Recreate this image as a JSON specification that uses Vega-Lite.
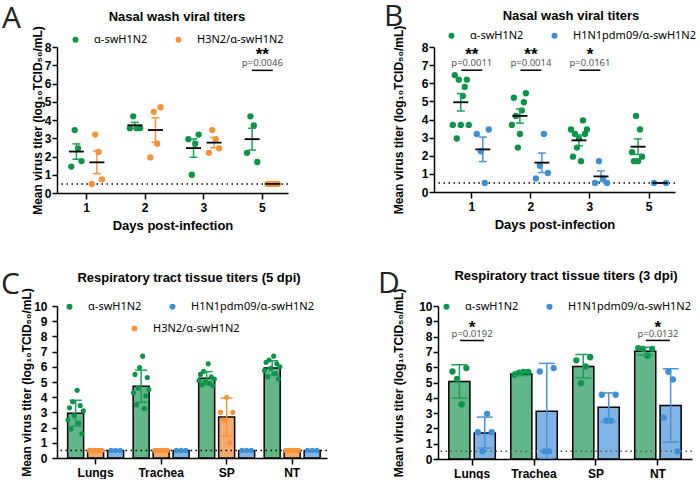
{
  "$schema": "https://vega.github.io/schema/vega-lite/v6.json",
  "padding": {"left": 1, "top": 2, "right": 0, "bottom": 0},
  "background": "white",
  "datasets": {
    "A_pts": [
      {"day": "1", "group": "α-swH1N2", "pig": "G1", "titer": 1.45},
      {"day": "1", "group": "α-swH1N2", "pig": "G2", "titer": 3.45},
      {"day": "1", "group": "α-swH1N2", "pig": "G3", "titer": 2.45},
      {"day": "1", "group": "α-swH1N2", "pig": "G4", "titer": 1.75},
      {"day": "1", "group": "H3N2/α-swH1N2", "pig": "O1", "titer": 0.5},
      {"day": "1", "group": "H3N2/α-swH1N2", "pig": "O2", "titer": 3.2},
      {"day": "1", "group": "H3N2/α-swH1N2", "pig": "O3", "titer": 2.25},
      {"day": "1", "group": "H3N2/α-swH1N2", "pig": "O4", "titer": 0.75},
      {"day": "2", "group": "α-swH1N2", "pig": "G1", "titer": 3.55},
      {"day": "2", "group": "α-swH1N2", "pig": "G2", "titer": 4.2},
      {"day": "2", "group": "α-swH1N2", "pig": "G3", "titer": 3.55},
      {"day": "2", "group": "α-swH1N2", "pig": "G4", "titer": 3.55},
      {"day": "2", "group": "H3N2/α-swH1N2", "pig": "O1", "titer": 1.95},
      {"day": "2", "group": "H3N2/α-swH1N2", "pig": "O2", "titer": 4.45},
      {"day": "2", "group": "H3N2/α-swH1N2", "pig": "O3", "titer": 2.7},
      {"day": "2", "group": "H3N2/α-swH1N2", "pig": "O4", "titer": 4.7},
      {"day": "3", "group": "α-swH1N2", "pig": "G1", "titer": 2.95},
      {"day": "3", "group": "α-swH1N2", "pig": "G2", "titer": 1.0},
      {"day": "3", "group": "α-swH1N2", "pig": "G3", "titer": 2.7},
      {"day": "3", "group": "α-swH1N2", "pig": "G4", "titer": 3.2},
      {"day": "3", "group": "H3N2/α-swH1N2", "pig": "O1", "titer": 2.2},
      {"day": "3", "group": "H3N2/α-swH1N2", "pig": "O2", "titer": 3.45},
      {"day": "3", "group": "H3N2/α-swH1N2", "pig": "O3", "titer": 2.95},
      {"day": "3", "group": "H3N2/α-swH1N2", "pig": "O4", "titer": 2.45},
      {"day": "5", "group": "α-swH1N2", "pig": "G1", "titer": 2.2},
      {"day": "5", "group": "α-swH1N2", "pig": "G2", "titer": 4.2},
      {"day": "5", "group": "α-swH1N2", "pig": "G3", "titer": 3.7},
      {"day": "5", "group": "α-swH1N2", "pig": "G4", "titer": 1.7},
      {"day": "5", "group": "H3N2/α-swH1N2", "pig": "O1", "titer": 0.5},
      {"day": "5", "group": "H3N2/α-swH1N2", "pig": "O2", "titer": 0.5},
      {"day": "5", "group": "H3N2/α-swH1N2", "pig": "O3", "titer": 0.5},
      {"day": "5", "group": "H3N2/α-swH1N2", "pig": "O4", "titer": 0.5}
    ],
    "A_sum": [
      {"day": "1", "group": "α-swH1N2", "mean": 2.27, "lo": 1.85, "hi": 2.69},
      {"day": "1", "group": "H3N2/α-swH1N2", "mean": 1.68, "lo": 1.06, "hi": 2.3},
      {"day": "2", "group": "α-swH1N2", "mean": 3.71, "lo": 3.55, "hi": 3.87},
      {"day": "2", "group": "H3N2/α-swH1N2", "mean": 3.45, "lo": 2.78, "hi": 4.12},
      {"day": "3", "group": "α-swH1N2", "mean": 2.46, "lo": 1.96, "hi": 2.96},
      {"day": "3", "group": "H3N2/α-swH1N2", "mean": 2.76, "lo": 2.48, "hi": 3.04},
      {"day": "5", "group": "α-swH1N2", "mean": 2.95, "lo": 2.35, "hi": 3.55},
      {"day": "5", "group": "H3N2/α-swH1N2", "mean": 0.5, "lo": null, "hi": null}
    ],
    "A_sig": [
      {"day": "5", "p": "p=0.0046", "stars": "**"}
    ],
    "B_pts": [
      {"day": "1", "group": "α-swH1N2", "pig": "G1", "titer": 3.7},
      {"day": "1", "group": "α-swH1N2", "pig": "G2", "titer": 6.45},
      {"day": "1", "group": "α-swH1N2", "pig": "G3", "titer": 2.95},
      {"day": "1", "group": "α-swH1N2", "pig": "G4", "titer": 6.2},
      {"day": "1", "group": "α-swH1N2", "pig": "G5", "titer": 3.7},
      {"day": "1", "group": "α-swH1N2", "pig": "G6", "titer": 5.3},
      {"day": "1", "group": "α-swH1N2", "pig": "G7", "titer": 5.8},
      {"day": "1", "group": "α-swH1N2", "pig": "G8", "titer": 6.2},
      {"day": "1", "group": "α-swH1N2", "pig": "G9", "titer": 3.7},
      {"day": "1", "group": "H1N1pdm09/α-swH1N2", "pig": "H1", "titer": 3.2},
      {"day": "1", "group": "H1N1pdm09/α-swH1N2", "pig": "H2", "titer": 2.25},
      {"day": "1", "group": "H1N1pdm09/α-swH1N2", "pig": "H3", "titer": 0.5},
      {"day": "1", "group": "H1N1pdm09/α-swH1N2", "pig": "H4", "titer": 3.45},
      {"day": "2", "group": "α-swH1N2", "pig": "G1", "titer": 3.7},
      {"day": "2", "group": "α-swH1N2", "pig": "G2", "titer": 5.2},
      {"day": "2", "group": "α-swH1N2", "pig": "G3", "titer": 4.2},
      {"day": "2", "group": "α-swH1N2", "pig": "G4", "titer": 2.45},
      {"day": "2", "group": "α-swH1N2", "pig": "G5", "titer": 3.2},
      {"day": "2", "group": "α-swH1N2", "pig": "G6", "titer": 4.5},
      {"day": "2", "group": "α-swH1N2", "pig": "G7", "titer": 4.95},
      {"day": "2", "group": "α-swH1N2", "pig": "G8", "titer": 5.45},
      {"day": "2", "group": "H1N1pdm09/α-swH1N2", "pig": "H1", "titer": 0.75},
      {"day": "2", "group": "H1N1pdm09/α-swH1N2", "pig": "H2", "titer": 1.45},
      {"day": "2", "group": "H1N1pdm09/α-swH1N2", "pig": "H3", "titer": 3.2},
      {"day": "2", "group": "H1N1pdm09/α-swH1N2", "pig": "H4", "titer": 1.05},
      {"day": "3", "group": "α-swH1N2", "pig": "G1", "titer": 3.45},
      {"day": "3", "group": "α-swH1N2", "pig": "G2", "titer": 1.95},
      {"day": "3", "group": "α-swH1N2", "pig": "G3", "titer": 3.2},
      {"day": "3", "group": "α-swH1N2", "pig": "G4", "titer": 2.45},
      {"day": "3", "group": "α-swH1N2", "pig": "G5", "titer": 2.95},
      {"day": "3", "group": "α-swH1N2", "pig": "G6", "titer": 1.7},
      {"day": "3", "group": "α-swH1N2", "pig": "G7", "titer": 3.95},
      {"day": "3", "group": "α-swH1N2", "pig": "G8", "titer": 3.2},
      {"day": "3", "group": "α-swH1N2", "pig": "G9", "titer": 3.45},
      {"day": "3", "group": "H1N1pdm09/α-swH1N2", "pig": "H1", "titer": 0.5},
      {"day": "3", "group": "H1N1pdm09/α-swH1N2", "pig": "H2", "titer": 1.7},
      {"day": "3", "group": "H1N1pdm09/α-swH1N2", "pig": "H3", "titer": 0.75},
      {"day": "3", "group": "H1N1pdm09/α-swH1N2", "pig": "H4", "titer": 0.5},
      {"day": "5", "group": "α-swH1N2", "pig": "G2", "titer": 2.2},
      {"day": "5", "group": "α-swH1N2", "pig": "G3", "titer": 1.7},
      {"day": "5", "group": "α-swH1N2", "pig": "G4", "titer": 4.2},
      {"day": "5", "group": "α-swH1N2", "pig": "G5", "titer": 1.7},
      {"day": "5", "group": "α-swH1N2", "pig": "G6", "titer": 3.45},
      {"day": "5", "group": "α-swH1N2", "pig": "G7", "titer": 1.95},
      {"day": "5", "group": "H1N1pdm09/α-swH1N2", "pig": "H1", "titer": 0.5},
      {"day": "5", "group": "H1N1pdm09/α-swH1N2", "pig": "H4", "titer": 0.5}
    ],
    "B_sum": [
      {"day": "1", "group": "α-swH1N2", "mean": 4.95, "lo": 4.47, "hi": 5.43},
      {"day": "1", "group": "H1N1pdm09/α-swH1N2", "mean": 2.35, "lo": 1.68, "hi": 3.03},
      {"day": "2", "group": "α-swH1N2", "mean": 4.2, "lo": 3.8, "hi": 4.58},
      {"day": "2", "group": "H1N1pdm09/α-swH1N2", "mean": 1.62, "lo": 1.07, "hi": 2.15},
      {"day": "3", "group": "α-swH1N2", "mean": 2.85, "lo": 2.55, "hi": 3.15},
      {"day": "3", "group": "H1N1pdm09/α-swH1N2", "mean": 0.86, "lo": 0.57, "hi": 1.16},
      {"day": "5", "group": "α-swH1N2", "mean": 2.5, "lo": 2.07, "hi": 2.93},
      {"day": "5", "group": "H1N1pdm09/α-swH1N2", "mean": 0.5, "lo": null, "hi": null}
    ],
    "B_sig": [
      {"day": "1", "p": "p=0.0011", "stars": "**"},
      {"day": "2", "p": "p=0.0014", "stars": "**"},
      {"day": "3", "p": "p=0.0161", "stars": "*"}
    ],
    "C_pts": [
      {"organ": "Lungs", "group": "α-swH1N2", "pig": "G1", "titer": 2.5},
      {"organ": "Lungs", "group": "α-swH1N2", "pig": "G2", "titer": 3.3},
      {"organ": "Lungs", "group": "α-swH1N2", "pig": "G3", "titer": 1.9},
      {"organ": "Lungs", "group": "α-swH1N2", "pig": "G4", "titer": 3.7},
      {"organ": "Lungs", "group": "α-swH1N2", "pig": "G5", "titer": 2.8},
      {"organ": "Lungs", "group": "α-swH1N2", "pig": "G7", "titer": 4.45},
      {"organ": "Lungs", "group": "α-swH1N2", "pig": "G8", "titer": 2.3},
      {"organ": "Lungs", "group": "α-swH1N2", "pig": "G9", "titer": 3.45},
      {"organ": "Lungs", "group": "α-swH1N2", "pig": "G10", "titer": 1.6},
      {"organ": "Lungs", "group": "α-swH1N2", "pig": "G11", "titer": 3.1},
      {"organ": "Trachea", "group": "α-swH1N2", "pig": "G1", "titer": 4.3},
      {"organ": "Trachea", "group": "α-swH1N2", "pig": "G2", "titer": 5.5},
      {"organ": "Trachea", "group": "α-swH1N2", "pig": "G3", "titer": 3.5},
      {"organ": "Trachea", "group": "α-swH1N2", "pig": "G4", "titer": 4.6},
      {"organ": "Trachea", "group": "α-swH1N2", "pig": "G5", "titer": 5.95},
      {"organ": "Trachea", "group": "α-swH1N2", "pig": "G7", "titer": 6.7},
      {"organ": "Trachea", "group": "α-swH1N2", "pig": "G8", "titer": 3.25},
      {"organ": "Trachea", "group": "α-swH1N2", "pig": "G9", "titer": 4.1},
      {"organ": "Trachea", "group": "α-swH1N2", "pig": "G10", "titer": 5.3},
      {"organ": "Trachea", "group": "α-swH1N2", "pig": "G11", "titer": 4.5},
      {"organ": "SP", "group": "α-swH1N2", "pig": "G1", "titer": 5.1},
      {"organ": "SP", "group": "α-swH1N2", "pig": "G2", "titer": 5.5},
      {"organ": "SP", "group": "α-swH1N2", "pig": "G3", "titer": 4.8},
      {"organ": "SP", "group": "α-swH1N2", "pig": "G4", "titer": 5.7},
      {"organ": "SP", "group": "α-swH1N2", "pig": "G5", "titer": 5.0},
      {"organ": "SP", "group": "α-swH1N2", "pig": "G7", "titer": 6.2},
      {"organ": "SP", "group": "α-swH1N2", "pig": "G8", "titer": 4.9},
      {"organ": "SP", "group": "α-swH1N2", "pig": "G9", "titer": 5.35},
      {"organ": "SP", "group": "α-swH1N2", "pig": "G10", "titer": 4.75},
      {"organ": "SP", "group": "α-swH1N2", "pig": "G11", "titer": 5.2},
      {"organ": "NT", "group": "α-swH1N2", "pig": "G1", "titer": 5.75},
      {"organ": "NT", "group": "α-swH1N2", "pig": "G2", "titer": 6.3},
      {"organ": "NT", "group": "α-swH1N2", "pig": "G3", "titer": 5.35},
      {"organ": "NT", "group": "α-swH1N2", "pig": "G4", "titer": 6.45},
      {"organ": "NT", "group": "α-swH1N2", "pig": "G5", "titer": 5.9},
      {"organ": "NT", "group": "α-swH1N2", "pig": "G7", "titer": 6.7},
      {"organ": "NT", "group": "α-swH1N2", "pig": "G8", "titer": 5.55},
      {"organ": "NT", "group": "α-swH1N2", "pig": "G9", "titer": 6.2},
      {"organ": "NT", "group": "α-swH1N2", "pig": "G10", "titer": 5.2},
      {"organ": "NT", "group": "α-swH1N2", "pig": "G11", "titer": 6.0},
      {"organ": "Lungs", "group": "H3N2/α-swH1N2", "pig": "O1", "titer": 0.5},
      {"organ": "Lungs", "group": "H3N2/α-swH1N2", "pig": "O2", "titer": 0.5},
      {"organ": "Lungs", "group": "H3N2/α-swH1N2", "pig": "O3", "titer": 0.5},
      {"organ": "Lungs", "group": "H3N2/α-swH1N2", "pig": "O4", "titer": 0.5},
      {"organ": "Lungs", "group": "H3N2/α-swH1N2", "pig": "O5", "titer": 0.5},
      {"organ": "Trachea", "group": "H3N2/α-swH1N2", "pig": "O1", "titer": 0.5},
      {"organ": "Trachea", "group": "H3N2/α-swH1N2", "pig": "O2", "titer": 0.5},
      {"organ": "Trachea", "group": "H3N2/α-swH1N2", "pig": "O3", "titer": 0.5},
      {"organ": "Trachea", "group": "H3N2/α-swH1N2", "pig": "O4", "titer": 0.5},
      {"organ": "Trachea", "group": "H3N2/α-swH1N2", "pig": "O5", "titer": 0.5},
      {"organ": "SP", "group": "H3N2/α-swH1N2", "pig": "O1", "titer": 3.0},
      {"organ": "SP", "group": "H3N2/α-swH1N2", "pig": "O2", "titer": 2.5},
      {"organ": "SP", "group": "H3N2/α-swH1N2", "pig": "O3", "titer": 4.0},
      {"organ": "SP", "group": "H3N2/α-swH1N2", "pig": "O4", "titer": 1.0},
      {"organ": "SP", "group": "H3N2/α-swH1N2", "pig": "O5", "titer": 3.0},
      {"organ": "NT", "group": "H3N2/α-swH1N2", "pig": "O1", "titer": 0.5},
      {"organ": "NT", "group": "H3N2/α-swH1N2", "pig": "O2", "titer": 0.5},
      {"organ": "NT", "group": "H3N2/α-swH1N2", "pig": "O3", "titer": 0.5},
      {"organ": "NT", "group": "H3N2/α-swH1N2", "pig": "O4", "titer": 0.5},
      {"organ": "NT", "group": "H3N2/α-swH1N2", "pig": "O5", "titer": 0.5},
      {"organ": "Lungs", "group": "H1N1pdm09/α-swH1N2", "pig": "H1", "titer": 0.5},
      {"organ": "Lungs", "group": "H1N1pdm09/α-swH1N2", "pig": "H2", "titer": 0.5},
      {"organ": "Lungs", "group": "H1N1pdm09/α-swH1N2", "pig": "H3", "titer": 0.5},
      {"organ": "Trachea", "group": "H1N1pdm09/α-swH1N2", "pig": "H1", "titer": 0.5},
      {"organ": "Trachea", "group": "H1N1pdm09/α-swH1N2", "pig": "H2", "titer": 0.5},
      {"organ": "Trachea", "group": "H1N1pdm09/α-swH1N2", "pig": "H3", "titer": 0.5},
      {"organ": "SP", "group": "H1N1pdm09/α-swH1N2", "pig": "H1", "titer": 0.5},
      {"organ": "SP", "group": "H1N1pdm09/α-swH1N2", "pig": "H2", "titer": 0.5},
      {"organ": "SP", "group": "H1N1pdm09/α-swH1N2", "pig": "H3", "titer": 0.5},
      {"organ": "NT", "group": "H1N1pdm09/α-swH1N2", "pig": "H1", "titer": 0.5},
      {"organ": "NT", "group": "H1N1pdm09/α-swH1N2", "pig": "H2", "titer": 0.5},
      {"organ": "NT", "group": "H1N1pdm09/α-swH1N2", "pig": "H3", "titer": 0.5}
    ],
    "C_sum": [
      {"organ": "Lungs", "group": "α-swH1N2", "mean": 2.95, "lo": 2.1, "hi": 3.8},
      {"organ": "Lungs", "group": "H3N2/α-swH1N2", "mean": 0.5, "lo": null, "hi": null},
      {"organ": "Lungs", "group": "H1N1pdm09/α-swH1N2", "mean": 0.5, "lo": null, "hi": null},
      {"organ": "Trachea", "group": "α-swH1N2", "mean": 4.72, "lo": 3.66, "hi": 5.78},
      {"organ": "Trachea", "group": "H3N2/α-swH1N2", "mean": 0.5, "lo": null, "hi": null},
      {"organ": "Trachea", "group": "H1N1pdm09/α-swH1N2", "mean": 0.5, "lo": null, "hi": null},
      {"organ": "SP", "group": "α-swH1N2", "mean": 5.25, "lo": 4.82, "hi": 5.68},
      {"organ": "SP", "group": "H3N2/α-swH1N2", "mean": 2.7, "lo": 1.45, "hi": 3.95},
      {"organ": "SP", "group": "H1N1pdm09/α-swH1N2", "mean": 0.5, "lo": null, "hi": null},
      {"organ": "NT", "group": "α-swH1N2", "mean": 5.92, "lo": 5.45, "hi": 6.4},
      {"organ": "NT", "group": "H3N2/α-swH1N2", "mean": 0.5, "lo": null, "hi": null},
      {"organ": "NT", "group": "H1N1pdm09/α-swH1N2", "mean": 0.5, "lo": null, "hi": null}
    ],
    "D_pts": [
      {"organ": "Lungs", "group": "α-swH1N2", "pig": "G1", "titer": 5.72},
      {"organ": "Lungs", "group": "α-swH1N2", "pig": "G2", "titer": 5.24},
      {"organ": "Lungs", "group": "α-swH1N2", "pig": "G3", "titer": 3.56},
      {"organ": "Lungs", "group": "α-swH1N2", "pig": "G4", "titer": 5.94},
      {"organ": "Trachea", "group": "α-swH1N2", "pig": "G1", "titer": 5.5},
      {"organ": "Trachea", "group": "α-swH1N2", "pig": "G2", "titer": 5.65},
      {"organ": "Trachea", "group": "α-swH1N2", "pig": "G3", "titer": 5.7},
      {"organ": "Trachea", "group": "α-swH1N2", "pig": "G4", "titer": 5.7},
      {"organ": "SP", "group": "α-swH1N2", "pig": "G1", "titer": 6.45},
      {"organ": "SP", "group": "α-swH1N2", "pig": "G2", "titer": 4.95},
      {"organ": "SP", "group": "α-swH1N2", "pig": "G3", "titer": 6.05},
      {"organ": "SP", "group": "α-swH1N2", "pig": "G4", "titer": 6.65},
      {"organ": "NT", "group": "α-swH1N2", "pig": "G1", "titer": 7.25},
      {"organ": "NT", "group": "α-swH1N2", "pig": "G2", "titer": 7.2},
      {"organ": "NT", "group": "α-swH1N2", "pig": "G3", "titer": 6.75},
      {"organ": "NT", "group": "α-swH1N2", "pig": "G4", "titer": 7.2},
      {"organ": "Lungs", "group": "H1N1pdm09/α-swH1N2", "pig": "H1", "titer": 1.75},
      {"organ": "Lungs", "group": "H1N1pdm09/α-swH1N2", "pig": "H2", "titer": 0.5},
      {"organ": "Lungs", "group": "H1N1pdm09/α-swH1N2", "pig": "H3", "titer": 2.95},
      {"organ": "Lungs", "group": "H1N1pdm09/α-swH1N2", "pig": "H4", "titer": 1.75},
      {"organ": "Trachea", "group": "H1N1pdm09/α-swH1N2", "pig": "H1", "titer": 5.72},
      {"organ": "Trachea", "group": "H1N1pdm09/α-swH1N2", "pig": "H2", "titer": 0.5},
      {"organ": "Trachea", "group": "H1N1pdm09/α-swH1N2", "pig": "H3", "titer": 0.5},
      {"organ": "Trachea", "group": "H1N1pdm09/α-swH1N2", "pig": "H4", "titer": 5.94},
      {"organ": "SP", "group": "H1N1pdm09/α-swH1N2", "pig": "H1", "titer": 4.2},
      {"organ": "SP", "group": "H1N1pdm09/α-swH1N2", "pig": "H2", "titer": 2.5},
      {"organ": "SP", "group": "H1N1pdm09/α-swH1N2", "pig": "H3", "titer": 2.5},
      {"organ": "SP", "group": "H1N1pdm09/α-swH1N2", "pig": "H4", "titer": 4.2},
      {"organ": "NT", "group": "H1N1pdm09/α-swH1N2", "pig": "H1", "titer": 2.7},
      {"organ": "NT", "group": "H1N1pdm09/α-swH1N2", "pig": "H2", "titer": 5.7},
      {"organ": "NT", "group": "H1N1pdm09/α-swH1N2", "pig": "H3", "titer": 5.2},
      {"organ": "NT", "group": "H1N1pdm09/α-swH1N2", "pig": "H4", "titer": 0.5}
    ],
    "D_sum": [
      {"organ": "Lungs", "group": "α-swH1N2", "mean": 5.07, "lo": 3.98, "hi": 6.16},
      {"organ": "Lungs", "group": "H1N1pdm09/α-swH1N2", "mean": 1.7, "lo": 0.72, "hi": 2.74},
      {"organ": "Trachea", "group": "α-swH1N2", "mean": 5.55, "lo": 5.45, "hi": 5.7},
      {"organ": "Trachea", "group": "H1N1pdm09/α-swH1N2", "mean": 3.12, "lo": 0.05, "hi": 6.25},
      {"organ": "SP", "group": "α-swH1N2", "mean": 6.05, "lo": 5.3, "hi": 6.83},
      {"organ": "SP", "group": "H1N1pdm09/α-swH1N2", "mean": 3.38, "lo": 2.42, "hi": 4.32},
      {"organ": "NT", "group": "α-swH1N2", "mean": 7.05, "lo": 6.8, "hi": 7.3},
      {"organ": "NT", "group": "H1N1pdm09/α-swH1N2", "mean": 3.49, "lo": 1.1, "hi": 5.9}
    ],
    "D_sig": [
      {"organ": "Lungs", "p": "p=0.0192", "stars": "*"},
      {"organ": "NT", "p": "p=0.0132", "stars": "*"}
    ]
  },
  "resolve": {"scale": {"color": "independent", "fill": "independent", "stroke": "independent", "shape": "independent", "xOffset": "independent"}},
  "spacing": 37,
  "vconcat": [
    {
      "spacing": 95,
      "resolve": {"scale": {"color": "independent", "fill": "independent", "stroke": "independent", "shape": "independent", "xOffset": "independent"}},
      "hconcat": [
        {
          "width": 231, "height": 146,
          "title": {"text": "A", "dx": -55, "dy": 27},
          "resolve": {"scale": {"xOffset": "independent"}},
          "layer": [
            {"data": {"values": [{}]}, "mark": {"type": "rule", "strokeDash": [1.5, 3.5], "strokeWidth": 1.5, "color": "#000"}, "encoding": {"y": {"datum": 0.5, "type": "quantitative", "title": "Mean virus titer (log₁₀TCID₅₀/mL)", "scale": {"domain": [0, 8], "nice": false}, "axis": {"values": [0, 1, 2, 3, 4, 5, 6, 7, 8], "titlePadding": 0, "labelPadding": 1, "labelOverlap": false}}}},
            {
              "data": {"name": "A_pts"},
              "mark": {"type": "point", "filled": true, "size": 40, "opacity": 1},
              "encoding": {
                "x": {"field": "day", "type": "nominal", "title": "Days post-infection", "scale": {"domain": ["1", "2", "3", "5"], "paddingInner": 0.3, "paddingOuter": 0.122, "align": 0.64}},
                "xOffset": {"field": "pig", "type": "nominal", "scale": {"type": "point", "domain": ["g0", "G1", "G2", "G3", "G4", "g5", "o0", "O1", "O2", "O3", "O4", "o5"], "padding": 0.5}},
                "y": {"field": "titer", "type": "quantitative", "title": "Mean virus titer (log₁₀TCID₅₀/mL)", "axis": {"values": [0, 1, 2, 3, 4, 5, 6, 7, 8], "titlePadding": 0, "labelPadding": 1, "labelOverlap": false}},
                "color": {"field": "group", "type": "nominal", "scale": {"domain": ["α-swH1N2", "H3N2/α-swH1N2"], "range": ["#0a9447", "#f7943a"]}, "legend": {"title": "Nasal wash viral titers", "legendX": 13, "legendY": -36, "titlePadding": 10}}
              }
            },
            {
              "data": {"name": "A_sum"},
              "mark": {"type": "rule", "strokeWidth": 1.5},
              "encoding": {
                "x": {"field": "day", "type": "nominal", "title": "Days post-infection"},
                "xOffset": {"field": "group", "type": "nominal", "scale": {"type": "point", "domain": ["α-swH1N2", "H3N2/α-swH1N2"], "padding": 0.5}},
                "y": {"field": "lo", "type": "quantitative", "title": "Mean virus titer (log₁₀TCID₅₀/mL)", "axis": {"values": [0, 1, 2, 3, 4, 5, 6, 7, 8], "titlePadding": 0, "labelPadding": 1, "labelOverlap": false}},
                "y2": {"field": "hi"},
                "stroke": {"field": "group", "type": "nominal", "scale": {"domain": ["H3N2/α-swH1N2", "α-swH1N2"], "range": ["#f7943a", "#1f9e5a"]}, "legend": null}
              }
            },
            {
              "data": {"name": "A_sum"},
              "mark": {"type": "point", "shape": "M-1,0H1", "size": 64, "strokeWidth": 1.5, "filled": false, "opacity": 1},
              "encoding": {
                "x": {"field": "day", "type": "nominal", "title": "Days post-infection"},
                "xOffset": {"field": "group", "type": "nominal", "scale": {"type": "point", "domain": ["α-swH1N2", "H3N2/α-swH1N2"], "padding": 0.5}},
                "y": {"field": "lo", "type": "quantitative", "title": "Mean virus titer (log₁₀TCID₅₀/mL)", "axis": {"values": [0, 1, 2, 3, 4, 5, 6, 7, 8], "titlePadding": 0, "labelPadding": 1, "labelOverlap": false}},
                "stroke": {"field": "group", "type": "nominal", "legend": null}
              }
            },
            {
              "data": {"name": "A_sum"},
              "mark": {"type": "point", "shape": "M-1,0H1", "size": 64, "strokeWidth": 1.5, "filled": false, "opacity": 1},
              "encoding": {
                "x": {"field": "day", "type": "nominal", "title": "Days post-infection"},
                "xOffset": {"field": "group", "type": "nominal", "scale": {"type": "point", "domain": ["α-swH1N2", "H3N2/α-swH1N2"], "padding": 0.5}},
                "y": {"field": "hi", "type": "quantitative", "title": "Mean virus titer (log₁₀TCID₅₀/mL)", "axis": {"values": [0, 1, 2, 3, 4, 5, 6, 7, 8], "titlePadding": 0, "labelPadding": 1, "labelOverlap": false}},
                "stroke": {"field": "group", "type": "nominal", "legend": null}
              }
            },
            {
              "data": {"name": "A_sum"},
              "mark": {"type": "tick", "color": "#000", "thickness": 1.8, "size": 15, "opacity": 1},
              "encoding": {
                "x": {"field": "day", "type": "nominal", "title": "Days post-infection"},
                "xOffset": {"field": "group", "type": "nominal", "scale": {"type": "point", "domain": ["α-swH1N2", "H3N2/α-swH1N2"], "padding": 0.5}},
                "y": {"field": "mean", "type": "quantitative", "title": "Mean virus titer (log₁₀TCID₅₀/mL)", "axis": {"values": [0, 1, 2, 3, 4, 5, 6, 7, 8], "titlePadding": 0, "labelPadding": 1, "labelOverlap": false}}
              }
            },
            {
              "data": {"name": "A_sig"},
              "mark": {"type": "tick", "color": "#000", "thickness": 1.5, "size": 21, "opacity": 1},
              "encoding": {"x": {"field": "day", "type": "nominal", "title": "Days post-infection"}, "y": {"datum": 6.72, "type": "quantitative", "title": "Mean virus titer (log₁₀TCID₅₀/mL)", "axis": {"values": [0, 1, 2, 3, 4, 5, 6, 7, 8], "titlePadding": 0, "labelPadding": 1, "labelOverlap": false}}}
            },
            {
              "data": {"name": "A_sig"},
              "mark": {"type": "text", "font": "Noto Sans", "fontSize": 9.5, "color": "#555"},
              "encoding": {"x": {"field": "day", "type": "nominal", "title": "Days post-infection"}, "y": {"datum": 7.1, "type": "quantitative", "title": "Mean virus titer (log₁₀TCID₅₀/mL)", "axis": {"values": [0, 1, 2, 3, 4, 5, 6, 7, 8], "titlePadding": 0, "labelPadding": 1, "labelOverlap": false}}, "text": {"field": "p"}}
            },
            {
              "data": {"name": "A_sig"},
              "mark": {"type": "text", "font": "Liberation Sans", "fontWeight": "bold", "fontSize": 17, "color": "#000"},
              "encoding": {"x": {"field": "day", "type": "nominal", "title": "Days post-infection"}, "y": {"datum": 7.55, "type": "quantitative", "title": "Mean virus titer (log₁₀TCID₅₀/mL)", "axis": {"values": [0, 1, 2, 3, 4, 5, 6, 7, 8], "titlePadding": 0, "labelPadding": 1, "labelOverlap": false}}, "text": {"field": "stars"}}
            }
          ]
        },
        {
          "width": 241, "height": 145,
          "title": {"text": "B", "dx": -50, "dy": 26},
          "resolve": {"scale": {"xOffset": "independent"}},
          "layer": [
            {"data": {"values": [{}]}, "mark": {"type": "rule", "strokeDash": [1.5, 3.5], "strokeWidth": 1.5, "color": "#000"}, "encoding": {"y": {"datum": 0.5, "type": "quantitative", "title": "Mean virus titer (log₁₀TCID₅₀/mL)", "scale": {"domain": [0, 8], "nice": false}, "axis": {"values": [0, 1, 2, 3, 4, 5, 6, 7, 8], "titlePadding": 16, "labelPadding": 1, "labelOverlap": false}}}},
            {
              "data": {"name": "B_pts"},
              "mark": {"type": "point", "filled": true, "size": 40, "opacity": 1},
              "encoding": {
                "x": {"field": "day", "type": "nominal", "title": "Days post-infection", "scale": {"domain": ["1", "2", "3", "5"], "paddingInner": 0.255, "paddingOuter": 0.167, "align": 0.8}},
                "xOffset": {"field": "pig", "type": "nominal", "scale": {"type": "point", "domain": ["g0", "G1", "G2", "G3", "G4", "G5", "G6", "G7", "G8", "G9", "g10", "b0", "b1", "H1", "b3", "H2", "b5", "H3", "b7", "H4", "b9", "b10"], "padding": 0.5}},
                "y": {"field": "titer", "type": "quantitative", "title": "Mean virus titer (log₁₀TCID₅₀/mL)", "axis": {"values": [0, 1, 2, 3, 4, 5, 6, 7, 8], "titlePadding": 16, "labelPadding": 1, "labelOverlap": false}},
                "color": {"field": "group", "type": "nominal", "scale": {"domain": ["α-swH1N2", "H1N1pdm09/α-swH1N2"], "range": ["#0a9447", "#3d8fd6"]}, "legend": {"title": "Nasal wash viral titers", "legendX": 12, "legendY": -37, "titlePadding": 7}}
              }
            },
            {
              "data": {"name": "B_sum"},
              "mark": {"type": "rule", "strokeWidth": 1.5},
              "encoding": {
                "x": {"field": "day", "type": "nominal", "title": "Days post-infection"},
                "xOffset": {"field": "group", "type": "nominal", "scale": {"type": "point", "domain": ["α-swH1N2", "H1N1pdm09/α-swH1N2"], "padding": 0.5}},
                "y": {"field": "lo", "type": "quantitative", "title": "Mean virus titer (log₁₀TCID₅₀/mL)", "axis": {"values": [0, 1, 2, 3, 4, 5, 6, 7, 8], "titlePadding": 16, "labelPadding": 1, "labelOverlap": false}},
                "y2": {"field": "hi"},
                "stroke": {"field": "group", "type": "nominal", "scale": {"domain": ["H1N1pdm09/α-swH1N2", "α-swH1N2"], "range": ["#4a93d6", "#1f9e5a"]}, "legend": null}
              }
            },
            {
              "data": {"name": "B_sum"},
              "mark": {"type": "point", "shape": "M-1,0H1", "size": 64, "strokeWidth": 1.5, "filled": false, "opacity": 1},
              "encoding": {
                "x": {"field": "day", "type": "nominal", "title": "Days post-infection"},
                "xOffset": {"field": "group", "type": "nominal", "scale": {"type": "point", "domain": ["α-swH1N2", "H1N1pdm09/α-swH1N2"], "padding": 0.5}},
                "y": {"field": "lo", "type": "quantitative", "title": "Mean virus titer (log₁₀TCID₅₀/mL)", "axis": {"values": [0, 1, 2, 3, 4, 5, 6, 7, 8], "titlePadding": 16, "labelPadding": 1, "labelOverlap": false}},
                "stroke": {"field": "group", "type": "nominal", "legend": null}
              }
            },
            {
              "data": {"name": "B_sum"},
              "mark": {"type": "point", "shape": "M-1,0H1", "size": 64, "strokeWidth": 1.5, "filled": false, "opacity": 1},
              "encoding": {
                "x": {"field": "day", "type": "nominal", "title": "Days post-infection"},
                "xOffset": {"field": "group", "type": "nominal", "scale": {"type": "point", "domain": ["α-swH1N2", "H1N1pdm09/α-swH1N2"], "padding": 0.5}},
                "y": {"field": "hi", "type": "quantitative", "title": "Mean virus titer (log₁₀TCID₅₀/mL)", "axis": {"values": [0, 1, 2, 3, 4, 5, 6, 7, 8], "titlePadding": 16, "labelPadding": 1, "labelOverlap": false}},
                "stroke": {"field": "group", "type": "nominal", "legend": null}
              }
            },
            {
              "data": {"name": "B_sum"},
              "mark": {"type": "tick", "color": "#000", "thickness": 1.8, "size": 15, "opacity": 1},
              "encoding": {
                "x": {"field": "day", "type": "nominal", "title": "Days post-infection"},
                "xOffset": {"field": "group", "type": "nominal", "scale": {"type": "point", "domain": ["α-swH1N2", "H1N1pdm09/α-swH1N2"], "padding": 0.5}},
                "y": {"field": "mean", "type": "quantitative", "title": "Mean virus titer (log₁₀TCID₅₀/mL)", "axis": {"values": [0, 1, 2, 3, 4, 5, 6, 7, 8], "titlePadding": 16, "labelPadding": 1, "labelOverlap": false}}
              }
            },
            {
              "data": {"name": "B_sig"},
              "mark": {"type": "tick", "color": "#000", "thickness": 1.5, "size": 21, "opacity": 1},
              "encoding": {"x": {"field": "day", "type": "nominal", "title": "Days post-infection"}, "y": {"datum": 6.72, "type": "quantitative", "title": "Mean virus titer (log₁₀TCID₅₀/mL)", "axis": {"values": [0, 1, 2, 3, 4, 5, 6, 7, 8], "titlePadding": 16, "labelPadding": 1, "labelOverlap": false}}}
            },
            {
              "data": {"name": "B_sig"},
              "mark": {"type": "text", "font": "Noto Sans", "fontSize": 9.5, "color": "#555"},
              "encoding": {"x": {"field": "day", "type": "nominal", "title": "Days post-infection"}, "y": {"datum": 7.1, "type": "quantitative", "title": "Mean virus titer (log₁₀TCID₅₀/mL)", "axis": {"values": [0, 1, 2, 3, 4, 5, 6, 7, 8], "titlePadding": 16, "labelPadding": 1, "labelOverlap": false}}, "text": {"field": "p"}}
            },
            {
              "data": {"name": "B_sig"},
              "mark": {"type": "text", "font": "Liberation Sans", "fontWeight": "bold", "fontSize": 17, "color": "#000"},
              "encoding": {"x": {"field": "day", "type": "nominal", "title": "Days post-infection"}, "y": {"datum": 7.55, "type": "quantitative", "title": "Mean virus titer (log₁₀TCID₅₀/mL)", "axis": {"values": [0, 1, 2, 3, 4, 5, 6, 7, 8], "titlePadding": 16, "labelPadding": 1, "labelOverlap": false}}, "text": {"field": "stars"}}
            }
          ]
        }
      ]
    },
    {
      "spacing": 50,
      "resolve": {"scale": {"color": "independent", "fill": "independent", "stroke": "independent", "shape": "independent", "xOffset": "independent"}},
      "hconcat": [
        {
          "width": 270, "height": 152,
          "title": {"text": "C", "dx": -56, "dy": 32},
          "resolve": {"scale": {"xOffset": "independent"}},
          "layer": [
            {
              "data": {"name": "C_sum"},
              "mark": {"type": "bar", "stroke": "#000", "strokeWidth": 1.5},
              "encoding": {
                "x": {"field": "organ", "type": "nominal", "title": null, "scale": {"domain": ["Lungs", "Trachea", "SP", "NT"], "paddingInner": 0.085, "paddingOuter": 0.103, "align": 0.64}},
                "xOffset": {"field": "group", "type": "nominal", "scale": {"domain": ["α-swH1N2", "H3N2/α-swH1N2", "H1N1pdm09/α-swH1N2"], "paddingInner": 0.2, "paddingOuter": 0.1}},
                "y": {"field": "mean", "type": "quantitative", "title": "Mean virus titer (log₁₀TCID₅₀/mL)", "scale": {"domain": [0, 10], "nice": false}, "axis": {"values": [0, 1, 2, 3, 4, 5, 6, 7, 8, 9, 10], "titlePadding": 0, "labelPadding": 5, "labelOverlap": false}},
                "fill": {"field": "group", "type": "nominal", "scale": {"domain": ["α-swH1N2", "H3N2/α-swH1N2", "H1N1pdm09/α-swH1N2"], "range": ["#62b688", "#f7aa6c", "#80b4e4"]}, "legend": null}
              }
            },
            {"data": {"values": [{}]}, "mark": {"type": "rule", "strokeDash": [1.5, 3.5], "strokeWidth": 1.5, "color": "#000"}, "encoding": {"y": {"datum": 0.5, "type": "quantitative", "title": "Mean virus titer (log₁₀TCID₅₀/mL)", "axis": {"values": [0, 1, 2, 3, 4, 5, 6, 7, 8, 9, 10], "titlePadding": 0, "labelPadding": 5, "labelOverlap": false}}}},
            {
              "data": {"name": "C_sum"},
              "mark": {"type": "rule", "strokeWidth": 1.5},
              "encoding": {
                "x": {"field": "organ", "type": "nominal", "title": null},
                "xOffset": {"field": "group", "type": "nominal", "scale": {"type": "point", "domain": ["α-swH1N2", "H3N2/α-swH1N2", "H1N1pdm09/α-swH1N2"], "padding": 0.5}},
                "y": {"field": "lo", "type": "quantitative", "title": "Mean virus titer (log₁₀TCID₅₀/mL)", "axis": {"values": [0, 1, 2, 3, 4, 5, 6, 7, 8, 9, 10], "titlePadding": 0, "labelPadding": 5, "labelOverlap": false}},
                "y2": {"field": "hi"},
                "stroke": {"field": "group", "type": "nominal", "scale": {"domain": ["H1N1pdm09/α-swH1N2", "H3N2/α-swH1N2", "α-swH1N2"], "range": ["#4a93d6", "#f7943a", "#1f9e5a"]}, "legend": null}
              }
            },
            {
              "data": {"name": "C_sum"},
              "mark": {"type": "point", "shape": "M-1,0H1", "size": 144, "strokeWidth": 1.5, "filled": false, "opacity": 1},
              "encoding": {
                "x": {"field": "organ", "type": "nominal", "title": null},
                "xOffset": {"field": "group", "type": "nominal", "scale": {"type": "point", "domain": ["α-swH1N2", "H3N2/α-swH1N2", "H1N1pdm09/α-swH1N2"], "padding": 0.5}},
                "y": {"field": "lo", "type": "quantitative", "title": "Mean virus titer (log₁₀TCID₅₀/mL)", "axis": {"values": [0, 1, 2, 3, 4, 5, 6, 7, 8, 9, 10], "titlePadding": 0, "labelPadding": 5, "labelOverlap": false}},
                "stroke": {"field": "group", "type": "nominal", "legend": null}
              }
            },
            {
              "data": {"name": "C_sum"},
              "mark": {"type": "point", "shape": "M-1,0H1", "size": 144, "strokeWidth": 1.5, "filled": false, "opacity": 1},
              "encoding": {
                "x": {"field": "organ", "type": "nominal", "title": null},
                "xOffset": {"field": "group", "type": "nominal", "scale": {"type": "point", "domain": ["α-swH1N2", "H3N2/α-swH1N2", "H1N1pdm09/α-swH1N2"], "padding": 0.5}},
                "y": {"field": "hi", "type": "quantitative", "title": "Mean virus titer (log₁₀TCID₅₀/mL)", "axis": {"values": [0, 1, 2, 3, 4, 5, 6, 7, 8, 9, 10], "titlePadding": 0, "labelPadding": 5, "labelOverlap": false}},
                "stroke": {"field": "group", "type": "nominal", "legend": null}
              }
            },
            {
              "data": {"name": "C_pts"},
              "transform": [{"filter": "datum.group !== 'H3N2/α-swH1N2'"}],
              "mark": {"type": "point", "filled": true, "size": 26, "opacity": 1},
              "encoding": {
                "x": {"field": "organ", "type": "nominal", "title": null},
                "xOffset": {"field": "pig", "type": "nominal", "scale": {"type": "point", "domain": ["g0", "G1", "G2", "G3", "G4", "G5", "G6", "G7", "G8", "G9", "G10", "G11", "g12", "o0", "o1", "O1", "o3", "O2", "o5", "O3", "o7", "O4", "o9", "O5", "o11", "o12", "b0", "b1", "b2", "H1", "b4", "b5", "H2", "b7", "b8", "H3", "b10", "b11", "b12"], "padding": 0.5}},
                "y": {"field": "titer", "type": "quantitative", "title": "Mean virus titer (log₁₀TCID₅₀/mL)", "axis": {"values": [0, 1, 2, 3, 4, 5, 6, 7, 8, 9, 10], "titlePadding": 0, "labelPadding": 5, "labelOverlap": false}},
                "color": {"field": "group", "type": "nominal", "scale": {"domain": ["α-swH1N2", "H1N1pdm09/α-swH1N2"], "range": ["#0a9448", "#3d8fd7"]}, "legend": {"title": "Respiratory tract tissue titers (5 dpi)", "legendX": 7, "legendY": -34, "titlePadding": 16}}
              }
            },
            {
              "data": {"name": "C_pts"},
              "transform": [{"filter": "datum.group === 'H3N2/α-swH1N2'"}],
              "mark": {"type": "point", "filled": true, "size": 26, "opacity": 1, "color": "#f7943a"},
              "encoding": {
                "x": {"field": "organ", "type": "nominal", "title": null},
                "xOffset": {"field": "pig", "type": "nominal", "scale": {"type": "point", "domain": ["g0", "G1", "G2", "G3", "G4", "G5", "G6", "G7", "G8", "G9", "G10", "G11", "g12", "o0", "o1", "O1", "o3", "O2", "o5", "O3", "o7", "O4", "o9", "O5", "o11", "o12", "b0", "b1", "b2", "H1", "b4", "b5", "H2", "b7", "b8", "H3", "b10", "b11", "b12"], "padding": 0.5}},
                "y": {"field": "titer", "type": "quantitative", "title": "Mean virus titer (log₁₀TCID₅₀/mL)", "axis": {"values": [0, 1, 2, 3, 4, 5, 6, 7, 8, 9, 10], "titlePadding": 0, "labelPadding": 5, "labelOverlap": false}},
                "shape": {"field": "group", "type": "nominal", "scale": {"domain": ["H3N2/α-swH1N2"], "range": ["circle"]}, "legend": {"title": null, "legendX": 72, "legendY": 17, "symbolFillColor": "#f7943a", "symbolStrokeColor": "#f7943a"}}
              }
            }
          ]
        },
        {
          "width": 254, "height": 153,
          "title": {"text": "D", "dx": -60, "dy": 33},
          "resolve": {"scale": {"xOffset": "independent"}},
          "layer": [
            {
              "data": {"name": "D_sum"},
              "transform": [{"filter": "datum.group === 'α-swH1N2'"}],
              "mark": {"type": "bar", "stroke": "#000", "strokeWidth": 1.5, "fill": "#62b688"},
              "encoding": {
                "x": {"field": "organ", "type": "nominal", "title": null, "scale": {"domain": ["Lungs", "Trachea", "SP", "NT"], "paddingInner": 0.18, "paddingOuter": 0.14, "align": 0.5}},
                "xOffset": {"field": "group", "type": "nominal", "scale": {"domain": ["α-swH1N2", "H1N1pdm09/α-swH1N2"], "paddingInner": 0.17, "paddingOuter": 0.085}},
                "y": {"field": "mean", "type": "quantitative", "title": "Mean virus titer (log₁₀TCID₅₀/mL)", "scale": {"domain": [0, 10], "nice": false}, "axis": {"values": [0, 1, 2, 3, 4, 5, 6, 7, 8, 9, 10], "titlePadding": 13, "labelPadding": 1, "labelOverlap": false}}
              }
            },
            {
              "data": {"name": "D_sum"},
              "transform": [{"filter": "datum.group === 'H1N1pdm09/α-swH1N2'"}],
              "mark": {"type": "bar", "stroke": "#000", "strokeWidth": 1.5, "fill": "#80b4e4"},
              "encoding": {
                "x": {"field": "organ", "type": "nominal", "title": null},
                "xOffset": {"field": "group", "type": "nominal", "scale": {"domain": ["α-swH1N2", "H1N1pdm09/α-swH1N2"], "paddingInner": 0.17, "paddingOuter": 0.085}},
                "y": {"field": "mean", "type": "quantitative", "title": "Mean virus titer (log₁₀TCID₅₀/mL)", "axis": {"values": [0, 1, 2, 3, 4, 5, 6, 7, 8, 9, 10], "titlePadding": 13, "labelPadding": 1, "labelOverlap": false}}
              }
            },
            {"data": {"values": [{}]}, "mark": {"type": "rule", "strokeDash": [1.5, 3.5], "strokeWidth": 1.5, "color": "#555"}, "encoding": {"y": {"datum": 0.5, "type": "quantitative", "title": "Mean virus titer (log₁₀TCID₅₀/mL)", "axis": {"values": [0, 1, 2, 3, 4, 5, 6, 7, 8, 9, 10], "titlePadding": 13, "labelPadding": 1, "labelOverlap": false}}}},
            {
              "data": {"name": "D_pts"},
              "mark": {"type": "point", "filled": true, "size": 40, "opacity": 1},
              "encoding": {
                "x": {"field": "organ", "type": "nominal", "title": null},
                "xOffset": {"field": "pig", "type": "nominal", "scale": {"type": "point", "domain": ["g0", "g1", "G1", "g3", "G2", "g5", "G3", "g7", "G4", "g9", "g10", "b0", "b1", "H1", "b3", "H2", "b5", "H3", "b7", "H4", "b9", "b10"], "padding": 0.5}},
                "y": {"field": "titer", "type": "quantitative", "title": "Mean virus titer (log₁₀TCID₅₀/mL)", "axis": {"values": [0, 1, 2, 3, 4, 5, 6, 7, 8, 9, 10], "titlePadding": 13, "labelPadding": 1, "labelOverlap": false}},
                "color": {"field": "group", "type": "nominal", "scale": {"domain": ["α-swH1N2", "H1N1pdm09/α-swH1N2"], "range": ["#0b9447", "#3e8fd6"]}, "legend": {"title": "Respiratory tract tissue titers (3 dpi)", "legendX": 3, "legendY": -36, "titlePadding": 18}}
              }
            },
            {
              "data": {"name": "D_sum"},
              "mark": {"type": "rule", "strokeWidth": 1.5},
              "encoding": {
                "x": {"field": "organ", "type": "nominal", "title": null},
                "xOffset": {"field": "group", "type": "nominal", "scale": {"type": "point", "domain": ["α-swH1N2", "H1N1pdm09/α-swH1N2"], "padding": 0.5}},
                "y": {"field": "lo", "type": "quantitative", "title": "Mean virus titer (log₁₀TCID₅₀/mL)", "axis": {"values": [0, 1, 2, 3, 4, 5, 6, 7, 8, 9, 10], "titlePadding": 13, "labelPadding": 1, "labelOverlap": false}},
                "y2": {"field": "hi"},
                "stroke": {"field": "group", "type": "nominal", "scale": {"domain": ["H1N1pdm09/α-swH1N2", "α-swH1N2"], "range": ["#4a93d7", "#1f9e5b"]}, "legend": null}
              }
            },
            {
              "data": {"name": "D_sum"},
              "mark": {"type": "point", "shape": "M-1,0H1", "size": 256, "strokeWidth": 1.5, "filled": false, "opacity": 1},
              "encoding": {
                "x": {"field": "organ", "type": "nominal", "title": null},
                "xOffset": {"field": "group", "type": "nominal", "scale": {"type": "point", "domain": ["α-swH1N2", "H1N1pdm09/α-swH1N2"], "padding": 0.5}},
                "y": {"field": "lo", "type": "quantitative", "title": "Mean virus titer (log₁₀TCID₅₀/mL)", "axis": {"values": [0, 1, 2, 3, 4, 5, 6, 7, 8, 9, 10], "titlePadding": 13, "labelPadding": 1, "labelOverlap": false}},
                "stroke": {"field": "group", "type": "nominal", "legend": null}
              }
            },
            {
              "data": {"name": "D_sum"},
              "mark": {"type": "point", "shape": "M-1,0H1", "size": 256, "strokeWidth": 1.5, "filled": false, "opacity": 1},
              "encoding": {
                "x": {"field": "organ", "type": "nominal", "title": null},
                "xOffset": {"field": "group", "type": "nominal", "scale": {"type": "point", "domain": ["α-swH1N2", "H1N1pdm09/α-swH1N2"], "padding": 0.5}},
                "y": {"field": "hi", "type": "quantitative", "title": "Mean virus titer (log₁₀TCID₅₀/mL)", "axis": {"values": [0, 1, 2, 3, 4, 5, 6, 7, 8, 9, 10], "titlePadding": 13, "labelPadding": 1, "labelOverlap": false}},
                "stroke": {"field": "group", "type": "nominal", "legend": null}
              }
            },
            {
              "data": {"name": "D_sig"},
              "mark": {"type": "tick", "color": "#000", "thickness": 1.5, "size": 24, "opacity": 1},
              "encoding": {"x": {"field": "organ", "type": "nominal", "title": null}, "y": {"datum": 7.75, "type": "quantitative", "title": "Mean virus titer (log₁₀TCID₅₀/mL)", "axis": {"values": [0, 1, 2, 3, 4, 5, 6, 7, 8, 9, 10], "titlePadding": 13, "labelPadding": 1, "labelOverlap": false}}}
            },
            {
              "data": {"name": "D_sig"},
              "mark": {"type": "text", "font": "Noto Sans", "fontSize": 9.5, "color": "#555"},
              "encoding": {"x": {"field": "organ", "type": "nominal", "title": null}, "y": {"datum": 8.2, "type": "quantitative", "title": "Mean virus titer (log₁₀TCID₅₀/mL)", "axis": {"values": [0, 1, 2, 3, 4, 5, 6, 7, 8, 9, 10], "titlePadding": 13, "labelPadding": 1, "labelOverlap": false}}, "text": {"field": "p"}}
            },
            {
              "data": {"name": "D_sig"},
              "mark": {"type": "text", "font": "Liberation Sans", "fontWeight": "bold", "fontSize": 17, "color": "#000"},
              "encoding": {"x": {"field": "organ", "type": "nominal", "title": null}, "y": {"datum": 8.55, "type": "quantitative", "title": "Mean virus titer (log₁₀TCID₅₀/mL)", "axis": {"values": [0, 1, 2, 3, 4, 5, 6, 7, 8, 9, 10], "titlePadding": 13, "labelPadding": 1, "labelOverlap": false}}, "text": {"field": "stars"}}
            }
          ]
        }
      ]
    }
  ],
  "config": {
    "font": "Liberation Sans",
    "view": {"stroke": null},
    "axis": {"domainColor": "#000", "domainWidth": 1.5, "tickColor": "#000", "tickWidth": 1.5, "tickSize": 5, "labelFont": "Liberation Sans", "labelFontWeight": "bold", "labelFontSize": 12, "labelColor": "#000", "titleFont": "Liberation Sans", "titleFontWeight": "bold", "titleFontSize": 13, "titleColor": "#000", "grid": false, "labelOverlap": false},
    "axisX": {"labelAngle": 0, "labelPadding": 3, "tickSize": 6, "titlePadding": 6},
    "axisY": {"titleFontSize": 12},
    "legend": {"orient": "none", "direction": "horizontal", "labelFont": "Noto Sans", "labelFontSize": 11, "labelColor": "#000", "titleFont": "Liberation Sans", "titleFontSize": 13, "titleFontWeight": "bold", "titleColor": "#000", "titleAnchor": "middle", "titleLimit": 400, "labelLimit": 300, "symbolType": "circle", "symbolSize": 36, "symbolStrokeWidth": 0, "labelOffset": 13, "columnPadding": 25},
    "title": {"font": "Open Sans", "fontSize": 30, "fontWeight": "normal", "color": "#222", "anchor": "start", "frame": "group"}
  }
}
